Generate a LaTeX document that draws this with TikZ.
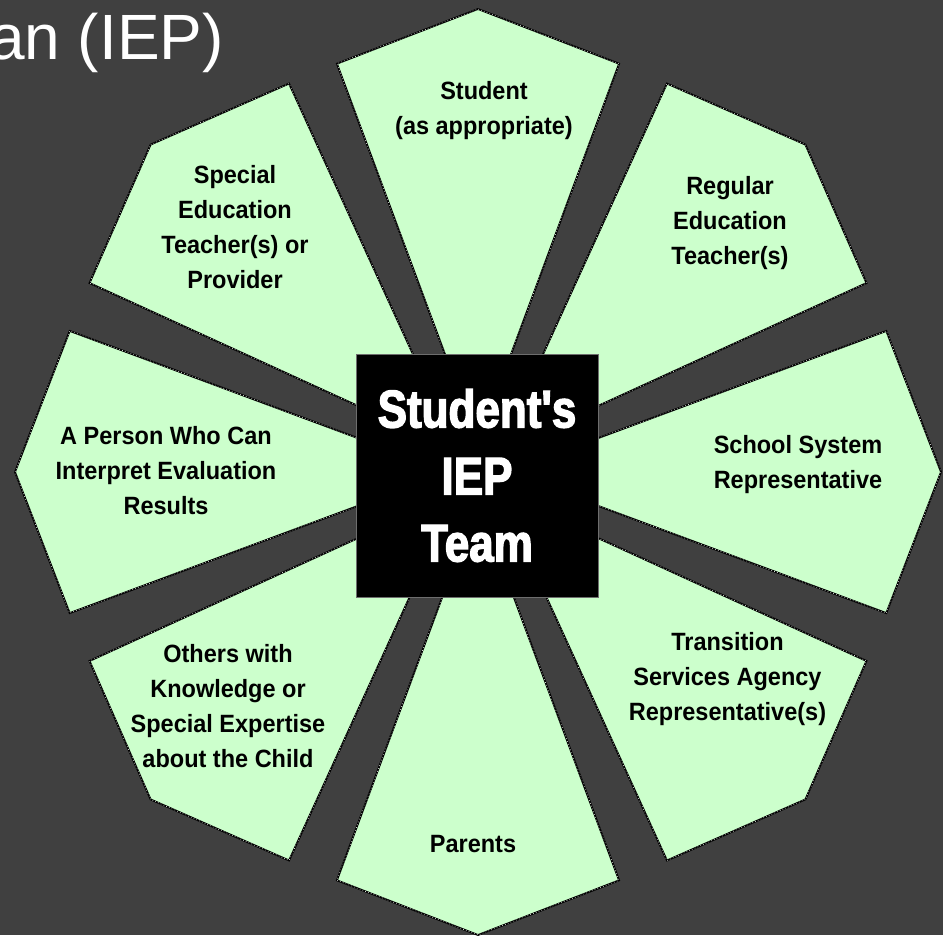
\documentclass[tikz,border=0pt]{standalone}
\usepackage{fontspec}
\setmainfont{Liberation Sans}
\newfontfamily\petalfont{Liberation Sans}[UprightFont=* Bold, FakeStretch=0.94]
\newfontfamily\hubfont{Liberation Sans}[UprightFont=* Bold, FakeStretch=0.83, FakeBold=2.5, Ligatures=TeXOff]
\definecolor{bggray}{HTML}{404040}
\definecolor{petalgreen}{HTML}{CCFFCC}
\tikzset{
  petal/.style={fill=petalgreen, draw=black, line width=1.8pt, line join=miter,
    postaction={draw=white, line width=0.5pt, dash pattern=on 0.8pt off 2.2pt}},
  petallabel/.style={align=center, anchor=center, inner sep=0pt, text=black,
    font=\petalfont\fontsize{25}{35}\selectfont},
  hub/.style={fill=black, draw={rgb,255:red,110;green,110;blue,110}, line width=0.6pt,
    minimum width=242pt, minimum height=243pt, inner sep=0pt, text=white, align=center,
    font=\hubfont\fontsize{53}{67}\selectfont},
  titletext/.style={anchor=base east, inner sep=0pt, text=white,
    font=\fontsize{64}{70}\selectfont}
}
\begin{document}
\begin{tikzpicture}[x=1pt,y=-1pt]
\fill[bggray] (0,0) rectangle (943,935);
\useasboundingbox (0,0) rectangle (943,935);
\node[titletext] (title) at (224,59.3) {an (IEP)};
\begin{scope}[shift={(478,472)}]
\foreach \a in {0,45,...,315} {
  \path[petal] (\a:29) -- (\a+19.06:432) -- (\a:463) -- (\a-19.06:432) -- cycle;
}
\end{scope}
\node[hub] (hub) at (477,475.5) {Student's\\IEP\\Team};
\node[petallabel] (student) at (484,111) {Student\\(as appropriate)};
\node[petallabel] (regular) at (730,223) {Regular\\Education\\Teacher(s)};
\node[petallabel] (school) at (798,465) {School System\\Representative};
\node[petallabel] (transition) at (727.5,679) {Transition\\Services Agency\\Representative(s)};
\node[petallabel] (parents) at (473,844) {Parents};
\node[petallabel] (others) at (228,706) {Others with\\Knowledge or\\Special Expertise\\about the Child};
\node[petallabel] (person) at (166,471) {A Person Who Can\\Interpret Evaluation\\Results};
\node[petallabel] (special) at (235,227) {Special\\Education\\Teacher(s) or\\Provider};
\end{tikzpicture}
\end{document}
